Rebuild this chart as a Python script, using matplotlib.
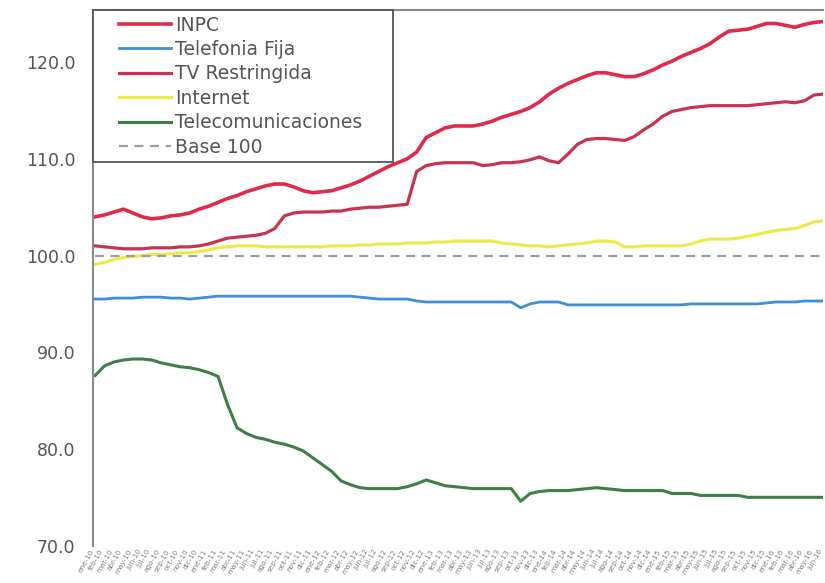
import matplotlib.pyplot as plt
import numpy as np
from matplotlib.lines import Line2D
from matplotlib.legend_handler import HandlerLine2D

plt.rcParams["font.family"] = ["DejaVu Sans"]

meses = ["ene", "feb", "mar", "abr", "may", "jun", "jul", "ago", "sep", "oct", "nov", "dic"]
periodos = [f"{meses[k % 12]}-{10 + k // 12:02d}" for k in range(78)]

inpc = [104.0, 104.2, 104.5, 104.8, 104.4, 104.0, 103.8, 103.9, 104.1, 104.2,
        104.4, 104.8, 105.1, 105.5, 105.9, 106.2, 106.6, 106.9, 107.2, 107.4,
        107.4, 107.1, 106.7, 106.5, 106.6, 106.7, 107.0, 107.3, 107.7, 108.2,
        108.7, 109.2, 109.6, 110.0, 110.7, 112.2, 112.7, 113.2, 113.4, 113.4,
        113.4, 113.6, 113.9, 114.3, 114.6, 114.9, 115.3, 115.9, 116.7, 117.3,
        117.8, 118.2, 118.6, 118.9, 118.9, 118.7, 118.5, 118.5, 118.8, 119.2,
        119.7, 120.1, 120.6, 121.0, 121.4, 121.9, 122.6, 123.2, 123.3, 123.4,
        123.7, 124.0, 124.0, 123.8, 123.6, 123.9, 124.1, 124.2]

tv_restringida = [101.0, 100.9, 100.8, 100.7, 100.7, 100.7, 100.8, 100.8, 100.8, 100.9,
                  100.9, 101.0, 101.2, 101.5, 101.8, 101.9, 102.0, 102.1, 102.3, 102.8,
                  104.1, 104.4, 104.5, 104.5, 104.5, 104.6, 104.6, 104.8, 104.9, 105.0,
                  105.0, 105.1, 105.2, 105.3, 108.7, 109.3, 109.5, 109.6, 109.6, 109.6,
                  109.6, 109.3, 109.4, 109.6, 109.6, 109.7, 109.9, 110.2, 109.8, 109.6,
                  110.5, 111.5, 112.0, 112.1, 112.1, 112.0, 111.9, 112.3, 113.0, 113.6,
                  114.4, 114.9, 115.1, 115.3, 115.4, 115.5, 115.5, 115.5, 115.5, 115.5,
                  115.6, 115.7, 115.8, 115.9, 115.8, 116.0, 116.6, 116.7]

telefonia_fija = [95.5, 95.5, 95.6, 95.6, 95.6, 95.7, 95.7, 95.7, 95.6, 95.6,
                  95.5, 95.6, 95.7, 95.8, 95.8, 95.8, 95.8, 95.8, 95.8, 95.8,
                  95.8, 95.8, 95.8, 95.8, 95.8, 95.8, 95.8, 95.8, 95.7, 95.6,
                  95.5, 95.5, 95.5, 95.5, 95.3, 95.2, 95.2, 95.2, 95.2, 95.2,
                  95.2, 95.2, 95.2, 95.2, 95.2, 94.6, 95.0, 95.2, 95.2, 95.2,
                  94.9, 94.9, 94.9, 94.9, 94.9, 94.9, 94.9, 94.9, 94.9, 94.9,
                  94.9, 94.9, 94.9, 95.0, 95.0, 95.0, 95.0, 95.0, 95.0, 95.0,
                  95.0, 95.1, 95.2, 95.2, 95.2, 95.3, 95.3, 95.3]

internet = [99.1, 99.3, 99.6, 99.8, 99.9, 100.0, 100.1, 100.1, 100.2, 100.3,
            100.3, 100.4, 100.6, 100.8, 100.9, 101.0, 101.0, 101.0, 100.9, 100.9,
            100.9, 100.9, 100.9, 100.9, 100.9, 101.0, 101.0, 101.0, 101.1, 101.1,
            101.2, 101.2, 101.2, 101.3, 101.3, 101.3, 101.4, 101.4, 101.5, 101.5,
            101.5, 101.5, 101.5, 101.3, 101.2, 101.1, 101.0, 101.0, 100.9, 101.0,
            101.1, 101.2, 101.3, 101.5, 101.5, 101.4, 100.9, 100.9, 101.0, 101.0,
            101.0, 101.0, 101.0, 101.2, 101.5, 101.7, 101.7, 101.7, 101.8, 102.0,
            102.2, 102.4, 102.6, 102.7, 102.8, 103.1, 103.5, 103.6]

telecomunicaciones = [87.6, 88.6, 89.0, 89.2, 89.3, 89.3, 89.2, 88.9, 88.7, 88.5,
                      88.4, 88.2, 87.9, 87.5, 84.6, 82.2, 81.6, 81.2, 81.0, 80.7,
                      80.5, 80.2, 79.8, 79.1, 78.4, 77.7, 76.7, 76.3, 76.0, 75.9,
                      75.9, 75.9, 75.9, 76.1, 76.4, 76.8, 76.5, 76.2, 76.1, 76.0,
                      75.9, 75.9, 75.9, 75.9, 75.9, 74.6, 75.4, 75.6, 75.7, 75.7,
                      75.7, 75.8, 75.9, 76.0, 75.9, 75.8, 75.7, 75.7, 75.7, 75.7,
                      75.7, 75.4, 75.4, 75.4, 75.2, 75.2, 75.2, 75.2, 75.2, 75.0,
                      75.0, 75.0, 75.0, 75.0, 75.0, 75.0, 75.0, 75.0]

x = np.arange(len(periodos))

fig = plt.figure(figsize=(8.25, 5.83), dpi=100)
ax = fig.add_axes([0.113, 0.064, 0.885, 0.919])

ax.plot(x, inpc, color="#e02a4c", lw=2.6, label="INPC")
ax.plot(x, telefonia_fija, color="#3d8fd6", lw=2.0, label="Telefonia Fija")
ax.plot(x, tv_restringida, color="#c8344e", lw=2.3, label="TV Restringida")
ax.plot(x, internet, color="#ecea45", lw=2.2, label="Internet")
ax.plot(x, telecomunicaciones, color="#3e7f48", lw=2.2, label="Telecomunicaciones")
ax.plot(x, [100] * len(x), color="#9c9cab", lw=1.6, ls=(0, (4, 3)), label="Base 100")

ax.set_ylim(70, 125.4)
ax.set_xlim(-0.2, len(x) - 1)
ax.set_yticks([70, 80, 90, 100, 110, 120])
ax.set_yticklabels([f"{v:.1f}" for v in [70, 80, 90, 100, 110, 120]])
ax.tick_params(axis="y", length=0, pad=13, labelsize=12.5, labelcolor="#555555")

ax.set_xticks(x)
ax.set_xticklabels(periodos, rotation=60, ha="right", fontsize=5.2, color="#808080")
ax.tick_params(axis="x", length=0, pad=2)

for side in ["right", "bottom"]:
    ax.spines[side].set_visible(False)
ax.spines["left"].set_color("#8a8a8a")
ax.spines["left"].set_linewidth(1.5)
ax.spines["top"].set_color("#8a8a8a")
ax.spines["top"].set_linewidth(1.5)

# legend box stretched to the width of the framed block; handles indented from the frame
leg = ax.legend(loc="upper left", bbox_to_anchor=(0.0, 0.0, 0.41, 1.0), mode="expand",
                fontsize=13.5, handlelength=3.85, handletextpad=0.2, labelspacing=0.29,
                borderpad=0.3, fancybox=False, framealpha=1, borderaxespad=0,
                handler_map={Line2D: HandlerLine2D(xpad=1.07)})
leg.get_frame().set_edgecolor("#555555")
leg.get_frame().set_linewidth(1.3)
for t in leg.get_texts():
    t.set_color("#555555")

fig.savefig("out.png", dpi=100)
